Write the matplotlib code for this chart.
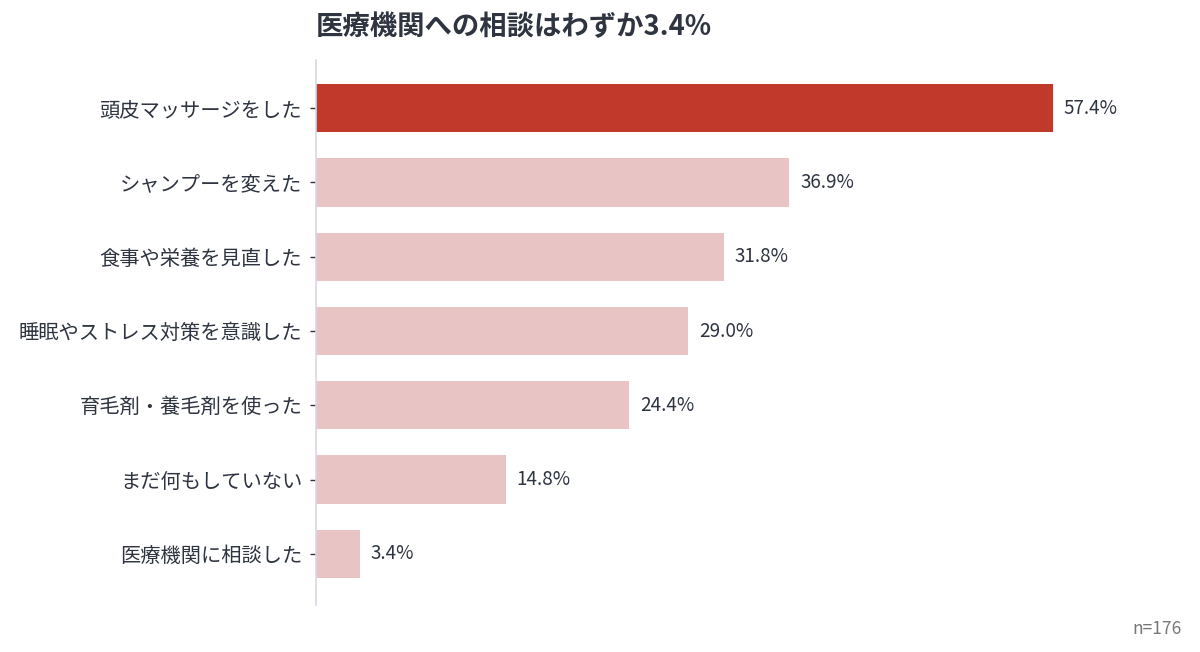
import matplotlib
matplotlib.use("Agg")
import matplotlib.pyplot as plt

plt.rcParams['font.family'] = ['Noto Sans CJK JP', 'DejaVu Sans']

# --- data ---
categories = [
    "頭皮マッサージをした",
    "シャンプーを変えた",
    "食事や栄養を見直した",
    "睡眠やストレス対策を意識した",
    "育毛剤・養毛剤を使った",
    "まだ何もしていない",
    "医療機関に相談した",
]
values = [57.4, 36.9, 31.8, 29.0, 24.4, 14.8, 3.4]
highlight_idx = 0

title = "医療機関への相談はわずか3.4%"
note = "n=176"

# --- styling ---
strong = "#c0392b"
soft = "#e9c4c4"
text_dark = "#2e3440"

fig = plt.figure(figsize=(12, 6.52), dpi=100)
ax = fig.add_axes([0.2633, 0.0721, 0.7058, 0.8359])

colors = [strong if i == highlight_idx else soft for i in range(len(values))]
ypos = list(range(len(values)))
ax.barh(ypos, values, height=0.65, color=colors)

for y, v in zip(ypos, values):
    ax.text(v + 0.85, y, f"{v:.1f}%", va="center", ha="left",
            fontsize=13.6, color=text_dark)

ax.set_yticks(ypos)
ax.set_yticklabels(categories, fontsize=14.6, color=text_dark)
ax.set_ylim(6.69, -0.65)
ax.set_xlim(0, 66)
ax.set_xticks([])

for s in ["top", "right", "bottom"]:
    ax.spines[s].set_visible(False)
ax.spines["left"].set_color("#dcd6e4")
ax.spines["left"].set_linewidth(1.2)
ax.tick_params(axis="y", length=4, width=1, color="#333333", pad=6)

fig.text(0.2633, 0.958, title, fontsize=19.7, fontweight="bold",
         color=text_dark, ha="left", va="center")
fig.text(0.985, 0.035, note, fontsize=12.5, color="#777777",
         ha="right", va="center")

fig.savefig("out.png", dpi=100, facecolor="white")
